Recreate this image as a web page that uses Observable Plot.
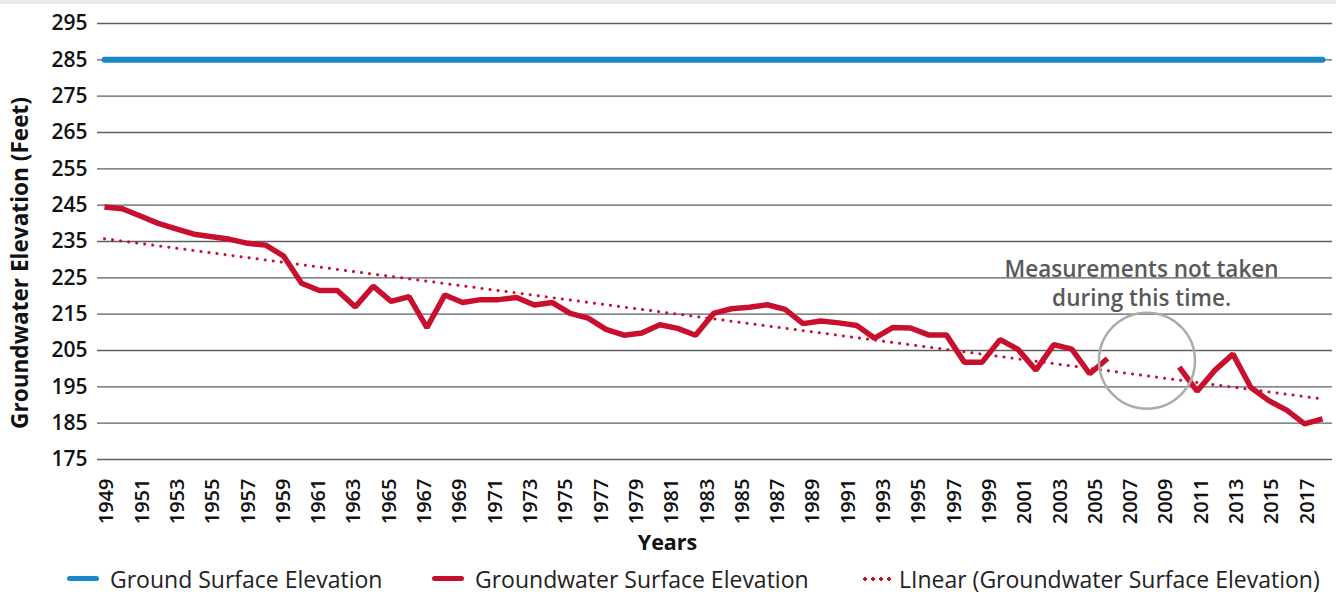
<!DOCTYPE html>
<html>
<head>
<meta charset="utf-8">
<script src="https://cdn.jsdelivr.net/npm/d3@7"></script>
<script src="https://cdn.jsdelivr.net/npm/@observablehq/plot@0.6"></script>
<style>
  html, body { margin: 0; padding: 0; background: #fff; }
  body { width: 1336px; height: 595px; position: relative; overflow: hidden; font-family: "Open Sans", sans-serif; }
  #topbar { position: absolute; left: 0; top: 0; width: 1336px; height: 4px; background: #e9eaec; }
  #chart { position: absolute; left: 0; top: 0; }
  #legend { position: absolute; left: 0; top: 563px; width: 1336px; height: 31px; font-size: 23px; color: #222; }
  .item { position: absolute; top: 0; display: flex; align-items: center; height: 31px; white-space: nowrap; }
  .sw { display: inline-block; width: 32px; height: 5px; border-radius: 3px; margin-right: 11px; }
  .dots { display: inline-block; width: 32px; height: 4px; margin-right: 6px;
          background-image: radial-gradient(circle, #c8102e 1.6px, transparent 1.9px);
          background-size: 8px 4px; background-repeat: repeat-x; }
</style>
</head>
<body>
<div id="topbar"></div>
<div id="chart"></div>
<div id="legend"></div>
<script>
// ---- data ----
const years = d3.range(1949, 2018);
const groundSurface = years.map(() => 285);
const groundwater = [
  244.5, 244.0, 242.0, 240.0, 238.5, 237.0, 236.3, 235.6, 234.5, 234.0, // 1949-1958
  231.0, 223.5, 221.5, 221.5, 217.0, 222.7, 218.5, 219.8, 211.3, 220.3, // 1959-1968
  218.2, 219.0, 219.0, 219.6, 217.5, 218.2, 215.2, 213.9, 210.8, 209.2, // 1969-1978
  209.8, 212.1, 211.1, 209.2, 215.2, 216.5, 216.9, 217.6, 216.3, 212.4, // 1979-1988
  213.1, 212.6, 211.9, 208.4, 211.3, 211.2, 209.3, 209.3, 201.8, 201.8, // 1989-1998
  208.0, 205.3, 199.6, 206.6, 205.4, 198.6, 202.8, null, null, null,    // 1999-2008
  200.4, 193.8, 199.6, 204.0, 194.8, 191.2, 188.6, 184.8, 186.2         // 2009-2017
];
const yTicks = [175, 185, 195, 205, 215, 225, 235, 245, 255, 265, 275, 285, 295];
const xTicks = d3.range(1949, 2018, 2);
const yTitle = "Groundwater Elevation (Feet)";
const xTitle = "Years";
const noteLines = ["Measurements not taken\nduring this time."];
const noteYear = [2006.9];
const noteValue = [223.9];
const gapYear = [2007.2];
const gapValue = [202.2];
const legendLabels = ["Ground Surface Elevation", "Groundwater Surface Elevation", "LInear (Groundwater Surface Elevation)"];

const RED = "#c8102e";
const BLUE = "#1b87c9";

const surfaceData = years.map((y, i) => ({year: y, value: groundSurface[i]}));
const gwData = years.map((y, i) => ({year: y, value: groundwater[i]}));
const gwValid = gwData.filter(d => d.value != null);

// category-axis labels sit at the centre of each year's category band (as in the source chart)
const nCat = years.length;
const labelPos = d => 1949 + ((d - 1949) + 0.5) * (nCat - 1) / nCat;

const chart = Plot.plot({
  width: 1336,
  height: 562,
  marginLeft: 104,
  marginRight: 14,
  marginTop: 23,
  marginBottom: 103,
  style: {fontFamily: "'Open Sans', sans-serif", color: "#111", background: "transparent", overflow: "visible"},
  x: {type: "linear", domain: [1949, 2017], axis: null},
  y: {domain: [175, 295]},
  marks: [
    Plot.ruleY(yTicks, {stroke: "#5f5f5f", strokeWidth: 1.4, insetLeft: -7, insetRight: -10}),
    Plot.axisY({ticks: yTicks, tickSize: 0, tickPadding: 17, fontSize: 21, fontWeight: 600, fill: "#111", label: null}),
    Plot.text(xTicks, {x: labelPos, text: d => String(d), frameAnchor: "bottom", rotate: -90, textAnchor: "end",
                dy: 19, fontSize: 20, fontWeight: 600, fill: "#111"}),
    Plot.line(surfaceData, {x: "year", y: "value", stroke: BLUE, strokeWidth: 6, strokeLinecap: "round"}),
    Plot.linearRegressionY(gwValid, {x: "year", y: "value", ci: 0, stroke: RED, strokeWidth: 3,
                strokeDasharray: "0.1 8", strokeLinecap: "round"}),
    Plot.line(gwData, {x: "year", y: "value", stroke: RED, strokeWidth: 5.5, strokeLinejoin: "miter", strokeLinecap: "butt"}),
    Plot.dot(gapYear.map((y, i) => ({x: y, v: gapValue[i]})), {x: "x", y: "v", r: 48, stroke: "#ababab", strokeWidth: 2.5, fill: "none"}),
    Plot.text(noteLines.map((t, i) => ({t, x: noteYear[i], v: noteValue[i]})), {x: "x", y: "v", text: "t",
                fontSize: 22.5, fontWeight: 600, fill: "#595959", lineHeight: 1.29}),
    Plot.text([yTitle], {frameAnchor: "left", textAnchor: "middle", rotate: -90, dx: -84, dy: 21.5,
                fontSize: 22.6, fontWeight: 700, fill: "#111"}),
    Plot.text([xTitle], {frameAnchor: "bottom", dx: -46, dy: 90, fontSize: 21.5, fontWeight: 700, fill: "#111"})
  ]
});
document.getElementById("chart").appendChild(chart);

// ---- legend ----
const legend = document.getElementById("legend");
const positions = [67, 432, 861];
const kinds = ["blue", "red", "dots"];
legendLabels.forEach((lab, i) => {
  const item = document.createElement("div");
  item.className = "item";
  item.style.left = positions[i] + "px";
  const sw = document.createElement("span");
  if (kinds[i] === "dots") { sw.className = "dots"; }
  else { sw.className = "sw"; sw.style.background = kinds[i] === "blue" ? BLUE : RED; }
  const tx = document.createElement("span");
  tx.textContent = lab;
  item.appendChild(sw); item.appendChild(tx);
  legend.appendChild(item);
});
</script>
</body>
</html>
